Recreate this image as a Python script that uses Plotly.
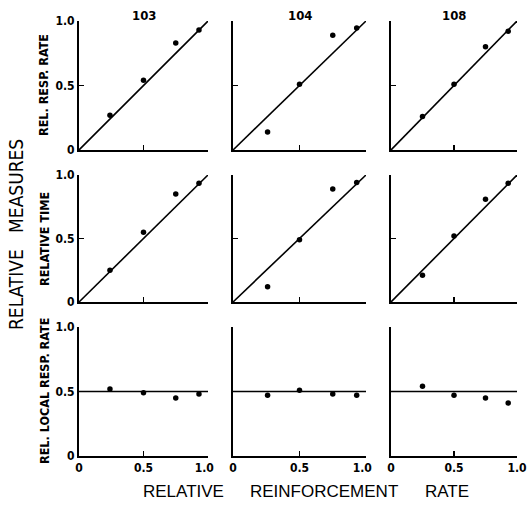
import plotly.graph_objects as go

W, H = 527, 509

subjects = ["103", "104", "108"]
row_labels = ["REL. RESP. RATE", "RELATIVE TIME", "REL. LOCAL RESP. RATE"]

# relative reinforcement rate (x) for each subject
x_103 = [0.24, 0.50, 0.75, 0.93]
x_104 = [0.26, 0.50, 0.75, 0.93]
x_108 = [0.25, 0.50, 0.75, 0.93]

# row 1: relative response rate
resp_103 = [0.27, 0.54, 0.83, 0.93]
resp_104 = [0.14, 0.51, 0.89, 0.945]
resp_108 = [0.26, 0.51, 0.80, 0.92]

# row 2: relative time
time_103 = [0.25, 0.55, 0.85, 0.935]
time_104 = [0.12, 0.49, 0.89, 0.94]
time_108 = [0.21, 0.52, 0.81, 0.935]

# row 3: relative local response rate
local_103 = [0.52, 0.49, 0.45, 0.48]
local_104 = [0.47, 0.51, 0.48, 0.47]
local_108 = [0.54, 0.47, 0.45, 0.41]

# reference lines
diag_x = [0.0, 1.0]
diag_y = [0.0, 1.0]
flat_x = [0.0, 1.0]
flat_y = [0.5, 0.5]

xs = [x_103, x_104, x_108]
rows = [
    [resp_103, resp_104, resp_108],
    [time_103, time_104, time_108],
    [local_103, local_104, local_108],
]
ref_lines = [(diag_x, diag_y), (diag_x, diag_y), (flat_x, flat_y)]

tick_vals = [0, 0.5, 1.0]
tick_text = ["0", "0.5", "1.0"]
# x tick text: "1.0" set slightly left of its tick as in the original print
pad = "<span style='color:rgba(0,0,0,0)'>0</span>"
x_tick_text = ["0", "0.5", "1.0" + pad]

# pixel layout (page coordinates)
col_px = [(79, 208), (233, 366), (391, 517)]
row_px = [(21, 150), (175, 302), (327, 456)]


def px(x):
    return x / W


def py(y):
    return 1 - y / H


FONT = "DejaVu Sans Condensed, Liberation Sans, Arial"

fig = go.Figure()
layout = dict(
    width=W, height=H,
    margin=dict(l=0, r=0, t=0, b=0, pad=0, autoexpand=False),
    paper_bgcolor="white", plot_bgcolor="white",
    showlegend=False,
    font=dict(family=FONT, color="black"),
)

tickfont = dict(family=FONT, size=12, color="black", weight="bold")

k = 0
for r in range(3):
    for c in range(3):
        k += 1
        xa = "xaxis" if k == 1 else f"xaxis{k}"
        ya = "yaxis" if k == 1 else f"yaxis{k}"
        xr = "x" if k == 1 else f"x{k}"
        yr = "y" if k == 1 else f"y{k}"
        x0, x1 = col_px[c]
        y0, y1 = row_px[r]
        last_col = (c == 2)
        layout[xa] = dict(
            domain=[px(x0), px(x1)], anchor=yr, range=[0, 1.0],
            showline=True, linewidth=2, linecolor="black", mirror=False,
            showgrid=False, zeroline=False, automargin=False,
            ticks="inside", ticklen=5, tickwidth=1.5, tickcolor="black",
            tickvals=tick_vals, ticktext=(tick_text if last_col else x_tick_text),
            showticklabels=(r == 2), tickfont=tickfont, fixedrange=True,
            ticklabeloverflow="allow",
        )
        layout[ya] = dict(
            domain=[py(y1), py(y0)], anchor=xr, range=[0, 1.0],
            showline=True, linewidth=2, linecolor="black",
            showgrid=False, zeroline=False, automargin=False,
            ticks="inside", ticklen=5, tickwidth=1.5, tickcolor="black",
            tickvals=tick_vals, ticktext=tick_text,
            showticklabels=(c == 0), tickfont=tickfont, fixedrange=True,
            ticklabeloverflow="allow",
        )
        lx, ly = ref_lines[r]
        fig.add_trace(go.Scatter(
            x=lx, y=ly, mode="lines", line=dict(color="black", width=1.6),
            xaxis=xr, yaxis=yr, hoverinfo="skip", cliponaxis=False,
        ))
        fig.add_trace(go.Scatter(
            x=xs[c], y=rows[r][c], mode="markers",
            marker=dict(color="black", size=5.5),
            xaxis=xr, yaxis=yr, cliponaxis=False,
        ))

fig.update_layout(**layout)

ann = []
# column titles
for c, s in enumerate(subjects):
    x0, x1 = col_px[c]
    ann.append(dict(text=f"<b>{s}</b>", x=px((x0 + x1) / 2), y=py(16),
                    xref="paper", yref="paper", showarrow=False,
                    xanchor="center", yanchor="middle",
                    font=dict(size=13, family=FONT)))
# row labels
row_centers = [85, 239, 391]
for r, lab in enumerate(row_labels):
    ann.append(dict(text=f"<b>{lab}</b>", x=px(44), y=py(row_centers[r]),
                    xref="paper", yref="paper", showarrow=False, textangle=-90,
                    xanchor="center", yanchor="middle",
                    font=dict(size=12.5, family=FONT)))
# big y title
ann.append(dict(text="RELATIVE\u00a0\u00a0\u00a0MEASURES", x=px(16), y=py(235),
                xref="paper", yref="paper", showarrow=False, textangle=-90,
                xanchor="center", yanchor="middle",
                font=dict(size=19, family=FONT)))
# x title words
for word, cx in [("RELATIVE", 183), ("REINFORCEMENT", 324), ("RATE", 447)]:
    ann.append(dict(text=word, x=px(cx), y=py(491),
                    xref="paper", yref="paper", showarrow=False,
                    xanchor="center", yanchor="middle",
                    font=dict(size=17, family="Liberation Sans, Arial")))
fig.update_layout(annotations=ann)

fig.write_html(
    "out.html",
    config={"displayModeBar": False, "staticPlot": True},
    post_script="document.body.style.margin='0';document.body.style.overflow='hidden';",
)
